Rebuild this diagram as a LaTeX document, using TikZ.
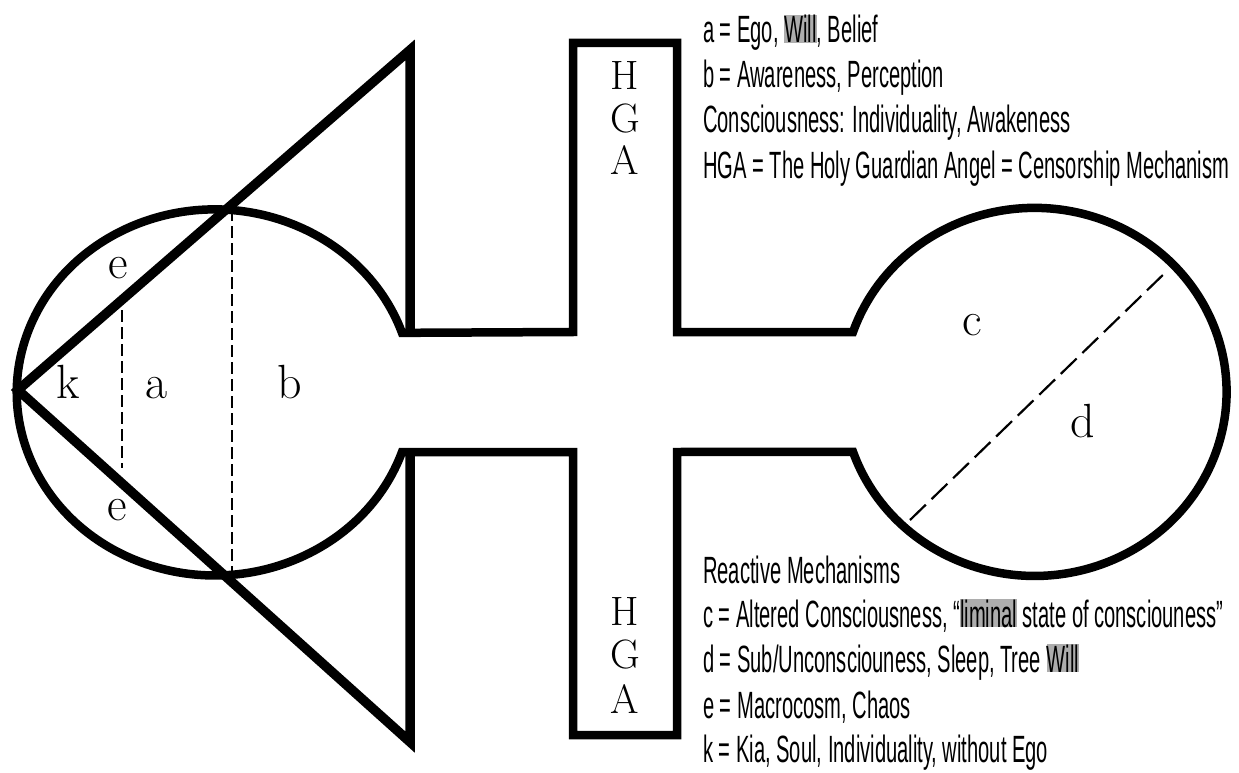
\documentclass[tikz,border=0pt]{standalone}
\usepackage{fontspec}
\newfontfamily\condfont[FakeStretch=0.53]{Liberation Sans}
\definecolor{hlgray}{gray}{0.68}
\newcommand\hlbox[1]{{\setlength{\fboxsep}{0pt}\colorbox{hlgray}{\vphantom{Wl}#1}}}
\tikzset{
  outline/.style={line width=8.5pt, line join=miter},
  tri/.style={line width=9.5pt, line join=miter},
  dashA/.style={line width=1.8pt, dash pattern=on 12pt off 5pt},
  dashB/.style={line width=2.2pt, dash pattern=on 22pt off 8pt},
  txt/.style={anchor=base west, inner sep=0pt, font=\condfont\fontsize{38}{45}\selectfont},
  lbl/.style={anchor=base, inner sep=0pt, font=\fontsize{48}{50}\selectfont},
  hga/.style={anchor=base, inner sep=0pt, font=\fontsize{41}{44}\selectfont}
}
\begin{document}
\begin{tikzpicture}[x=1pt,y=-1pt]
\useasboundingbox[fill=white] (0,0) rectangle (1239,773);
% outline: left bulb, neck, HGA bars, right bulb
\draw[outline] (402,452)
  arc[start angle=19, end angle=341, x radius=198, y radius=183]
  -- (573,332) -- (573,43) -- (677,43) -- (677,332) -- (853,332)
  arc[start angle=199, end angle=521, x radius=192, y radius=184]
  -- (677,452) -- (677,735) -- (573,735) -- (573,452) -- cycle;
% triangle
\coordinate (apex) at (18,390);
\coordinate (ttop) at (410,50);
\coordinate (tbot) at (410,742);
\coordinate (nt) at (410,332);
\coordinate (nb) at (410,452);
\draw[tri] (nt) -- (ttop) -- (apex) -- (tbot) -- (nb);
% dashed dividers
\coordinate (d1t) at (232,209);
\coordinate (d1b) at (232,573);
\coordinate (d2t) at (122,310);
\coordinate (d2b) at (122,468);
\coordinate (d3a) at (910,520);
\coordinate (d3b) at (1168,270);
\draw[dashA] (d1t) -- (d1b);
\draw[dashA] (d2t) -- (d2b);
\draw[dashB] (d3a) -- (d3b);
% region labels
\node[lbl] (lk) at (68,398) {k};
\node[lbl] (la) at (157,398) {a};
\node[lbl] (lb) at (290,398) {b};
\node[lbl] (le1) at (118,278) {e};
\node[lbl] (le2) at (117,520) {e};
\node[lbl] (lc) at (972,335) {c};
\node[lbl] (ld) at (1083,437) {d};
% HGA letters
\node[hga] (h1) at (625,90) {H};
\node[hga] (g1) at (625,132) {G};
\node[hga] (a1) at (625,175) {A};
\node[hga] (h2) at (625,625) {H};
\node[hga] (g2) at (625,668) {G};
\node[hga] (a2) at (625,713) {A};
% legends
\node[txt] (t1) at (703,43) {a = Ego, \hlbox{Will}, Belief};
\node[txt] (t2) at (703,88) {b = Awareness, Perception};
\node[txt] (t3) at (703,132) {Consciousness: Individuality, Awakeness};
\node[txt] (t4) at (703,178) {HGA = The Holy Guardian Angel = Censorship Mechanism};
\node[txt] (r0) at (703,583) {Reactive Mechanisms};
\node[txt] (r1) at (703,627) {c = Altered Consciousness, “\hlbox{liminal} state of consciouness”};
\node[txt] (r2) at (703,672) {d = Sub/Unconsciouness, Sleep, Tree \hlbox{Will}};
\node[txt] (r3) at (703,718) {e = Macrocosm, Chaos};
\node[txt] (r4) at (703,762) {k = Kia, Soul, Individuality, without Ego};
\end{tikzpicture}
\end{document}
